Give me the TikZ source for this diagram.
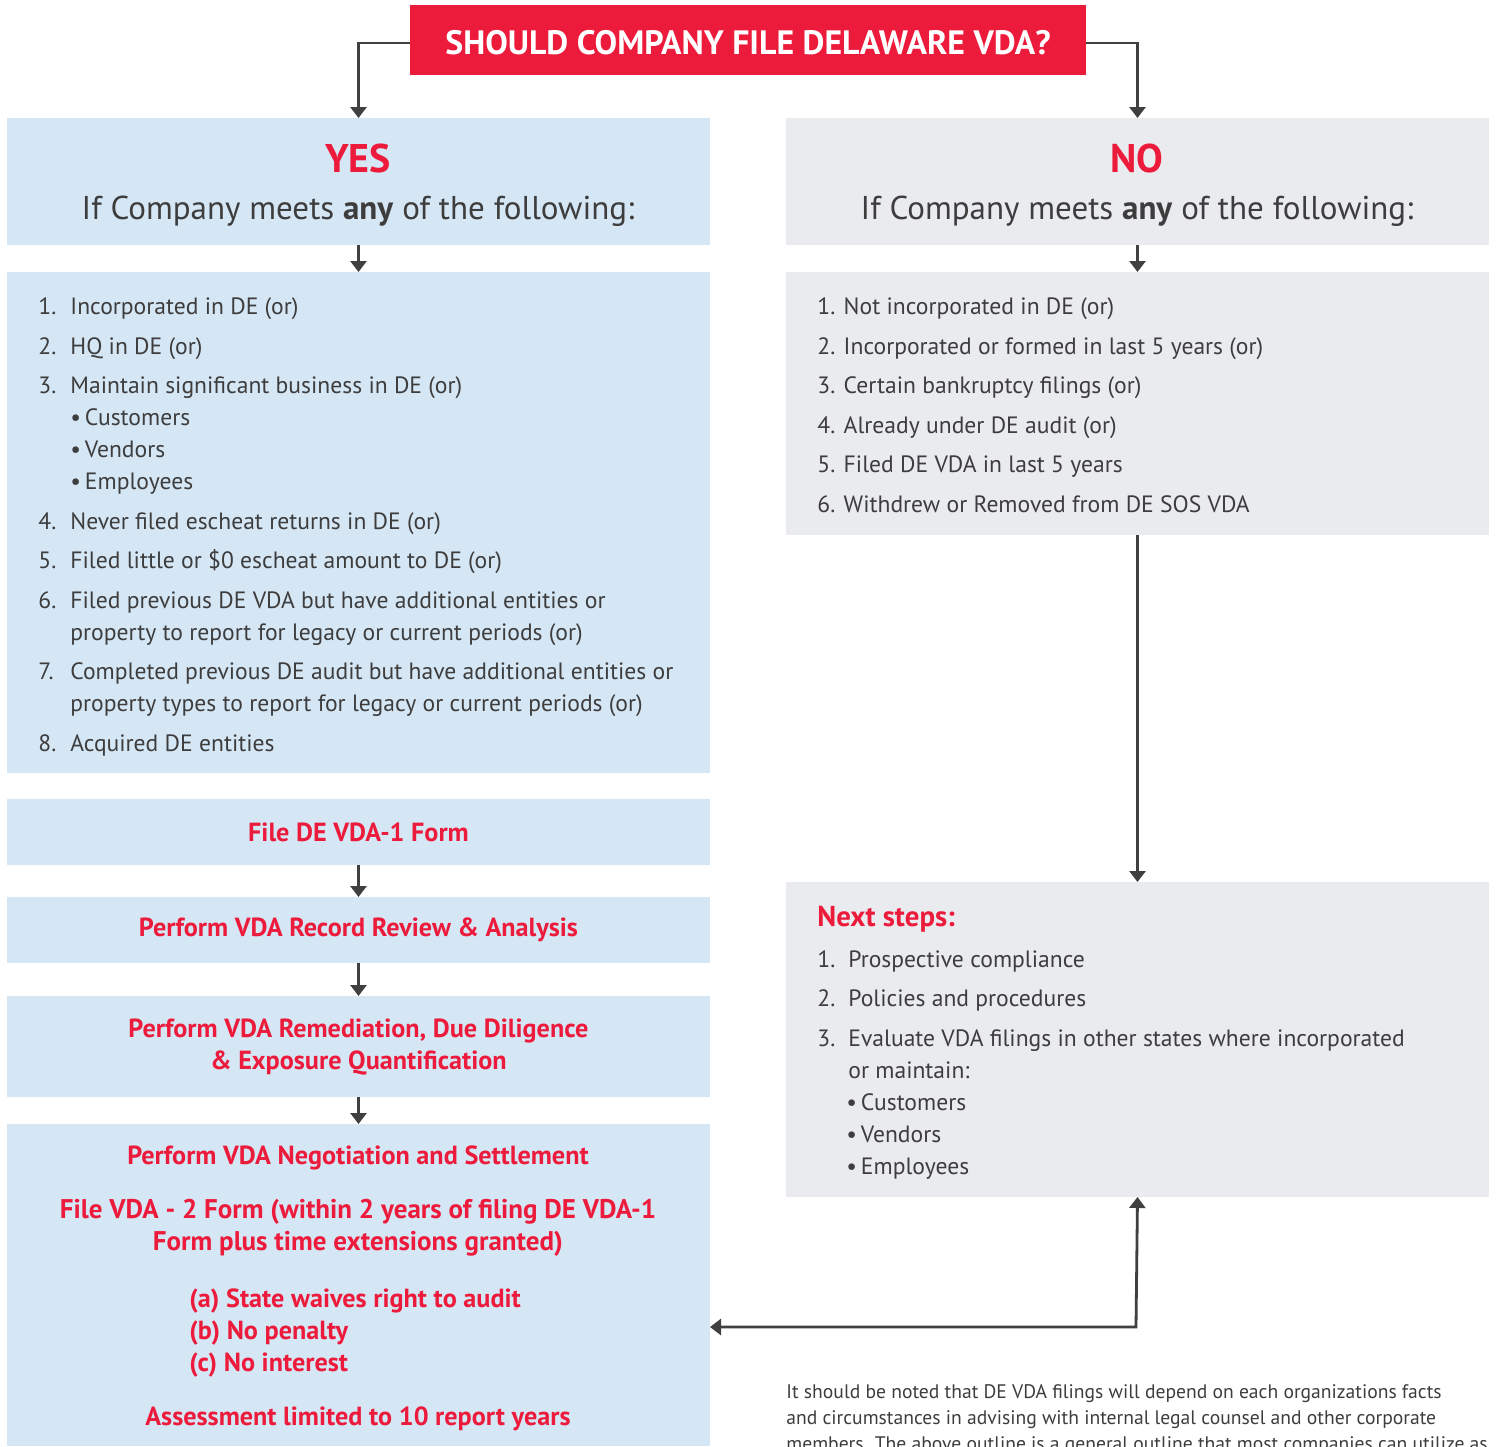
\documentclass[tikz,border=0pt]{standalone}
\usepackage{fontspec}
\setmainfont{PT Sans}
\usetikzlibrary{positioning,fit,arrows.meta}
\definecolor{vdared}{HTML}{ED1B3B}
\definecolor{yesblue}{HTML}{D5E6F5}
\definecolor{nogray}{HTML}{EAEBEF}
\definecolor{txtgray}{HTML}{3D3D3D}
\definecolor{arrgray}{HTML}{404040}
\tikzset{
  box/.style={fill=#1, draw=none, inner sep=0pt, outer sep=0pt},
  arr/.style={draw=arrgray, line width=1.4pt, -{Triangle[width=8pt,length=5.5pt]}},
  arrboth/.style={arr, {Triangle[width=8pt,length=5.5pt]}-{Triangle[width=8pt,length=5.5pt]}},
  item/.style={anchor=base west, inner sep=0pt, text=txtgray, font=\fontsize{11.8}{16}\selectfont},
  redtxt/.style={text=vdared, font=\fontsize{13.1}{16}\selectfont\bfseries, align=center},
  head/.style={text=txtgray, font=\fontsize{16.5}{20}\selectfont},
  tag/.style={text=vdared, font=\fontsize{20}{24}\selectfont\bfseries},
}

\begin{document}
\begin{tikzpicture}[x=0.5pt, y=-0.5pt]
    \useasboundingbox (0,0) rectangle (1497,1446);

    % question
    \node [box=vdared, fit={(410,5) (1086,75)}] (title) {};
    \node [text=white, font=\fontsize{16.9}{20}\selectfont\bfseries] (titletxt) at (748,43) {SHOULD COMPANY FILE DELAWARE VDA?};

    % yes / no headers
    \node [box=yesblue, fit={(7,118) (710,245)}] (yeshead) {};
    \node [box=nogray, fit={(786,118) (1489,245)}] (nohead) {};
    \node [tag] (yestag) at (358,158) {YES};
    \node [tag] (notag) at (1137,158) {NO};
    \node [head] (yescond) at (358,211) {If Company meets \textbf{any} of the following:};
    \node [head] (nocond) at (1137,211) {If Company meets \textbf{any} of the following:};

    % criteria
    \node [box=yesblue, fit={(7,272) (710,773)}] (yeslist) {};
    \node [box=nogray, fit={(786,272) (1489,535)}] (nolist) {};

    \foreach \n/\y/\t in {1/306/Incorporated in DE (or), 2/346/HQ in DE (or),
        3/385/Maintain significant business in DE (or), 4/521/Never filed escheat returns in DE (or),
        5/560/Filed little or \$0 escheat amount to DE (or),
        6/600/Filed previous DE VDA but have additional entities or,
        7/671/Completed previous DE audit but have additional entities or, 8/743/Acquired DE entities} {
        \node [item] (yesnum\n) at (38,\y+8) {\n.};
        \node [item] (yesitem\n) at (70,\y+8) {\t};
    }
    \node [item] (yesitem6b) at (70,640) {property to report for legacy or current periods (or)};
    \node [item] (yesitem7b) at (70,711) {property types to report for legacy or current periods (or)};
    \foreach \k/\y/\t in {a/417/Customers, b/449/Vendors, c/481/Employees}
        \node [item] (yesbul\k) at (70,\y+8) {\textbullet\,\t};

    \foreach \n/\y/\t in {1/306/Not incorporated in DE (or), 2/346/Incorporated or formed in last 5 years (or),
        3/385/Certain bankruptcy filings (or), 4/425/Already under DE audit (or),
        5/464/Filed DE VDA in last 5 years, 6/504/Withdrew or Removed from DE SOS VDA}
        \node [item] (noitem\n) at (817,\y+8) {\n. \t};

    % yes steps
    \node [box=yesblue, fit={(7,799) (710,865)}] (file) {};
    \node [redtxt] (filetxt) at (file.center) {File DE VDA-1 Form};
    \node [box=yesblue, fit={(7,897) (710,963)}] (review) {};
    \node [redtxt] (reviewtxt) at (review.center) {Perform VDA Record Review \& Analysis};
    \node [box=yesblue, fit={(7,996) (710,1097)}] (remedy) {};
    \node [redtxt] (remedytxt) at (remedy.center) {Perform VDA Remediation, Due Diligence\\\& Exposure Quantification};
    \node [box=yesblue, fit={(7,1124) (710,1446)}] (settle) {};
    \node [redtxt] (settletitle) at (358,1158) {Perform VDA Negotiation and Settlement};
    \node [redtxt, font=\fontsize{13.5}{16}\selectfont\bfseries] (settleform) at (358,1228) {File VDA - 2 Form (within 2 years of filing DE VDA-1\\Form plus time extensions granted)};
    \node [redtxt, align=left, anchor=base west, inner sep=0pt] (settleterms) at (189,1371) {(a) State waives right to audit\\(b) No penalty\\(c) No interest};
    \node [redtxt] (settlecap) at (358,1419) {Assessment limited to 10 report years};

    % no steps
    \node [box=nogray, fit={(786,882) (1489,1197)}] (next) {};
    \node [item, text=vdared, font=\fontsize{14.4}{17}\selectfont\bfseries] (nexttitle) at (817,926) {Next steps:};
    \foreach \n/\y/\t in {1/959/Prospective compliance, 2/998/Policies and procedures,
        3/1038/Evaluate VDA filings in other states where incorporated} {
        \node [item] (nextnum\n) at (817,\y+8) {\n.};
        \node [item] (nextitem\n) at (848,\y+8) {\t};
    }
    \node [item] (nextitem3b) at (848,1078) {or maintain:};
    \foreach \k/\y/\t in {a/1102/Customers, b/1134/Vendors, c/1166/Employees}
        \node [item] (nextbul\k) at (846,\y+8) {\textbullet\,\t};

    % note
    \node [anchor=base west, inner sep=0pt, align=left, text=txtgray, font=\fontsize{9.8}{13}\selectfont] (note) at (786,1450)
        {It should be noted that DE VDA filings will depend on each organizations facts\\
         and circumstances in advising with internal legal counsel and other corporate\\
         members. The above outline is a general outline that most companies can utilize as};

    % connectors
    \draw [arr] ([yshift=-1.5pt]title.west) -| (yeshead.north);
    \draw [arr] ([yshift=-1.5pt]title.east) -| (nohead.north);
    \draw [arr] (yeshead.south) -- (yeslist.north);
    \draw [arr] (nohead.south) -- (nolist.north);
    \draw [arr] (nolist.south) -- (next.north);
    \draw [arr] (file.south) -- (review.north);
    \draw [arr] (review.south) -- (remedy.north);
    \draw [arr] (remedy.south) -- (settle.north);
    \coordinate (bend) at (1136,1327);
    \draw [arrboth] (settle.east |- bend) -- (bend) -- (next.south);
\end{tikzpicture}
\end{document}
